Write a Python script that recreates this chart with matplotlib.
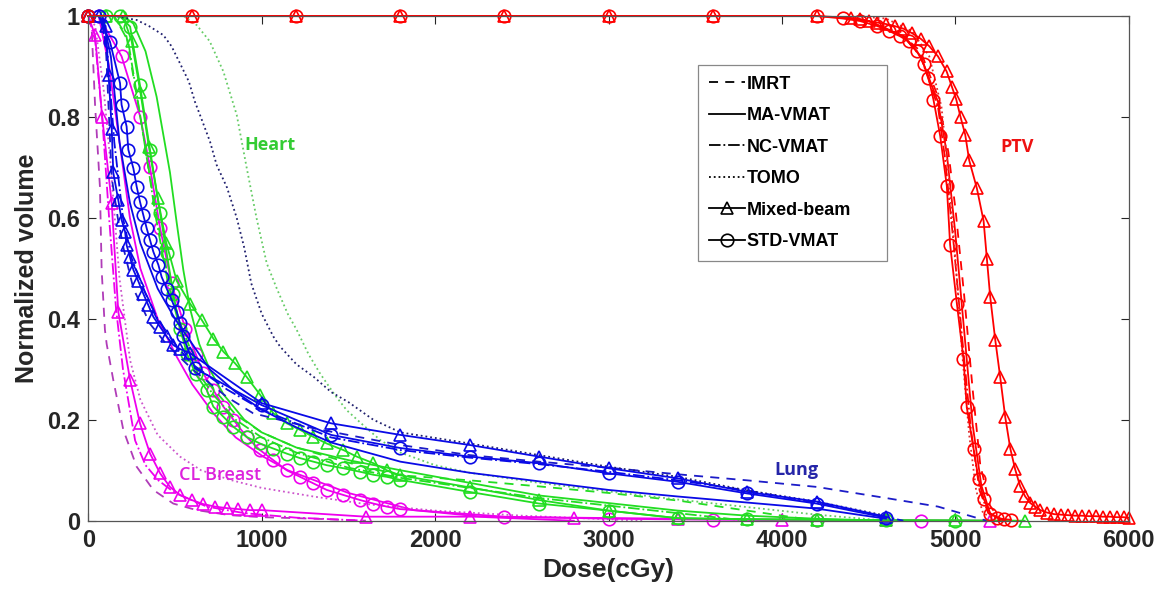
import matplotlib
matplotlib.use("Agg")
import matplotlib.pyplot as plt
from matplotlib.lines import Line2D

# ---- PTV (red) ----
ptv_imrt_dose = [0, 4300, 4500, 4700, 4800, 4900, 4960, 5000, 5050, 5100, 5144, 5200, 5260]
ptv_imrt_vol = [1, 1, 0.99, 0.96, 0.93, 0.84, 0.73, 0.62, 0.45, 0.26, 0.11, 0.03, 0]
ptv_ma_dose = [0, 4300, 4500, 4700, 4800, 4900, 4950, 5000, 5050, 5100, 5150, 5200, 5280]
ptv_ma_vol = [1, 1, 0.99, 0.96, 0.92, 0.83, 0.73, 0.57, 0.38, 0.19, 0.07, 0.015, 0]
ptv_nc_dose = [0, 4300, 4500, 4700, 4800, 4900, 4940, 4990, 5040, 5090, 5140, 5190, 5260]
ptv_nc_vol = [1, 1, 0.99, 0.96, 0.92, 0.82, 0.72, 0.55, 0.36, 0.18, 0.06, 0.015, 0]
ptv_tomo_dose = [0, 4400, 4600, 4750, 4850, 4920, 4960, 5000, 5040, 5080, 5120, 5160, 5250]
ptv_tomo_vol = [1, 1, 0.995, 0.97, 0.92, 0.82, 0.69, 0.52, 0.33, 0.17, 0.06, 0.015, 0]
ptv_mixed_dose = [0, 600, 1200, 1800, 2400, 3000, 3600, 4200, 4400, 4450, 4500, 4550, 4600,
                  4650, 4700, 4750, 4800, 4850, 4900, 4950, 4980, 5005, 5030, 5057, 5080,
                  5124, 5163, 5182, 5201, 5230, 5259, 5288, 5317, 5345, 5374, 5403, 5432,
                  5461, 5490, 5530, 5570, 5610, 5650, 5690, 5730, 5770, 5810, 5850, 5890,
                  5930, 5970, 6000]
ptv_mixed_vol = [1, 1, 1, 1, 1, 1, 1, 1, 0.996, 0.994, 0.99, 0.987, 0.984,
                 0.98, 0.975, 0.966, 0.955, 0.94, 0.92, 0.89, 0.86, 0.835, 0.80, 0.765, 0.714,
                 0.659, 0.594, 0.519, 0.444, 0.359, 0.284, 0.205, 0.143, 0.102, 0.068, 0.048, 0.035,
                 0.028, 0.021, 0.016, 0.013, 0.012, 0.011, 0.010, 0.010, 0.009, 0.009, 0.008, 0.008,
                 0.007, 0.007, 0.006]
ptv_std_dose = [0, 600, 1200, 1800, 2400, 3000, 3600, 4200, 4350, 4450, 4550, 4620, 4680,
                4730, 4780, 4817, 4845, 4874, 4913, 4951, 4970, 5009, 5047, 5066, 5105,
                5134, 5163, 5201, 5240, 5280, 5320]
ptv_std_vol = [1, 1, 1, 1, 1, 1, 1, 1, 0.995, 0.99, 0.98, 0.97, 0.96,
               0.95, 0.93, 0.905, 0.878, 0.834, 0.762, 0.663, 0.547, 0.43, 0.321, 0.225, 0.143,
               0.082, 0.044, 0.014, 0.006, 0.003, 0.002]

# ---- Heart (green) ----
heart_imrt_dose = [0, 150, 220, 300, 380, 450, 520, 600, 700, 850, 1000, 1200, 1500, 1800,
                   2200, 2600, 3000, 3400, 3800, 4200]
heart_imrt_vol = [1, 1, 0.96, 0.8, 0.63, 0.5, 0.4, 0.33, 0.27, 0.21, 0.175, 0.145, 0.115, 0.09,
                  0.08, 0.068, 0.055, 0.04, 0.02, 0]
heart_ma_dose = [0, 200, 260, 330, 394, 430, 471, 510, 548, 587, 640, 700, 780, 900, 1000,
                 1200, 1500, 1800, 2200, 2600, 3000, 3400, 3800, 4200, 4600]
heart_ma_vol = [1, 1, 0.985, 0.93, 0.84, 0.77, 0.69, 0.59, 0.497, 0.42, 0.35, 0.3, 0.25, 0.2, 0.175,
                0.145, 0.12, 0.1, 0.075, 0.05, 0.035, 0.02, 0.01, 0.004, 0]
heart_nc_dose = [0, 150, 230, 310, 390, 460, 530, 620, 720, 850, 1000, 1200, 1500, 1800, 2200,
                 2600, 3000, 3400, 3800]
heart_nc_vol = [1, 1, 0.95, 0.78, 0.6, 0.47, 0.38, 0.3, 0.25, 0.2, 0.165, 0.135, 0.105, 0.085, 0.065,
                0.045, 0.03, 0.015, 0]
heart_tomo_dose = [0, 550, 625, 700, 779, 856, 913, 970, 1029, 1087, 1150, 1202, 1270, 1336, 1420,
                   1490, 1583, 1683, 1800, 2000, 2200, 2600, 3000, 3400, 3800, 4200, 4600]
heart_tomo_vol = [1, 1, 0.982, 0.95, 0.89, 0.804, 0.7, 0.6, 0.51, 0.46, 0.41, 0.378, 0.33, 0.292, 0.25,
                  0.219, 0.19, 0.16, 0.135, 0.11, 0.095, 0.075, 0.058, 0.042, 0.027, 0.012, 0]
heart_mixed_dose = [0, 100, 200, 250, 300, 350, 400, 450, 510, 587, 654, 721, 779, 846, 913, 990,
                    1067, 1144, 1221, 1298, 1375, 1471, 1548, 1644, 1721, 1798, 2200, 2600, 3000,
                    3400, 3800, 4200, 4600, 5000, 5400]
heart_mixed_vol = [1, 1, 1, 0.95, 0.85, 0.74, 0.64, 0.55, 0.475, 0.43, 0.398, 0.361, 0.335, 0.312, 0.285,
                   0.25, 0.213, 0.193, 0.18, 0.166, 0.153, 0.14, 0.127, 0.114, 0.10, 0.09, 0.066,
                   0.041, 0.02, 0.005, 0.003, 0.002, 0.001, 0.001, 0]
heart_std_dose = [0, 100, 180, 241, 298, 356, 414, 452, 490, 529, 570, 620, 683, 721, 779, 837,
                  913, 990, 1067, 1144, 1221, 1298, 1375, 1471, 1567, 1644, 1721, 1798, 2200,
                  2600, 3000, 3400, 3800, 4200, 4600, 5000]
heart_std_vol = [1, 1, 1, 0.979, 0.863, 0.735, 0.61, 0.53, 0.45, 0.38, 0.33, 0.29, 0.259, 0.226,
                 0.206, 0.186, 0.166, 0.153, 0.143, 0.133, 0.124, 0.117, 0.11, 0.104, 0.097, 0.091,
                 0.087, 0.081, 0.057, 0.034, 0.02, 0.005, 0.003, 0.002, 0.001, 0]

# ---- Lung (blue) ----
lung_imrt_dose = [0, 70, 100, 135, 170, 203, 260, 356, 450, 600, 800, 950, 1300, 1800, 2200,
                  2600, 3000, 3400, 3800, 4200, 4600, 4900, 5180]
lung_imrt_vol = [1, 1, 0.95, 0.68, 0.6, 0.54, 0.46, 0.39, 0.35, 0.3, 0.245, 0.213, 0.183, 0.15, 0.13,
                 0.117, 0.105, 0.092, 0.08, 0.067, 0.045, 0.028, 0]
lung_ma_dose = [0, 80, 130, 180, 240, 300, 400, 500, 600, 700, 850, 1000, 1200, 1400, 1800,
                2200, 2600, 3000, 3400, 3800, 4200, 4600]
lung_ma_vol = [1, 1, 0.92, 0.75, 0.63, 0.55, 0.46, 0.4, 0.35, 0.3, 0.255, 0.22, 0.185, 0.155, 0.117,
               0.095, 0.078, 0.061, 0.048, 0.036, 0.024, 0.004]
lung_nc_dose = [0, 70, 110, 150, 200, 250, 330, 400, 500, 600, 800, 1000, 1400, 1800, 2200, 2600,
                3000, 3400, 3800, 4200, 4500, 4700]
lung_nc_vol = [1, 1, 0.93, 0.75, 0.6, 0.52, 0.45, 0.4, 0.35, 0.31, 0.26, 0.22, 0.165, 0.14, 0.125,
               0.112, 0.097, 0.08, 0.06, 0.035, 0.015, 0]
lung_tomo_dose = [0, 150, 279, 350, 433, 480, 529, 580, 615, 644, 702, 740, 800, 856, 900, 940,
                  1000, 1067, 1106, 1200, 1300, 1400, 1500, 1644, 1800, 2200, 2600, 3000, 3400,
                  3800, 4200, 4600]
lung_tomo_vol = [1, 1, 0.992, 0.98, 0.962, 0.94, 0.906, 0.87, 0.83, 0.804, 0.751, 0.705, 0.66, 0.6,
                 0.54, 0.47, 0.41, 0.365, 0.345, 0.31, 0.285, 0.255, 0.235, 0.2, 0.175, 0.153, 0.13,
                 0.107, 0.087, 0.06, 0.038, 0.01]
lung_mixed_dose = [0, 60, 100, 117, 135, 144, 173, 192, 212, 221, 240, 260, 289, 317, 346, 375,
                   414, 452, 490, 530, 587, 1000, 1400, 1800, 2200, 2600, 3000, 3400, 3800, 4200,
                   4600]
lung_mixed_vol = [1, 1, 0.98, 0.883, 0.777, 0.69, 0.635, 0.596, 0.573, 0.546, 0.523, 0.497, 0.474,
                  0.45, 0.427, 0.404, 0.384, 0.365, 0.348, 0.34, 0.332, 0.233, 0.193, 0.17, 0.15,
                  0.127, 0.104, 0.084, 0.057, 0.038, 0.008]
lung_std_dose = [0, 60, 125, 183, 192, 221, 231, 260, 279, 298, 317, 337, 356, 375, 404, 423, 452,
                 481, 510, 529, 548, 615, 1000, 1400, 1800, 2200, 2600, 3000, 3400, 3800, 4200,
                 4600]
lung_std_vol = [1, 1, 0.949, 0.867, 0.824, 0.781, 0.735, 0.698, 0.662, 0.632, 0.606, 0.579, 0.556,
                0.533, 0.507, 0.483, 0.46, 0.437, 0.414, 0.391, 0.365, 0.302, 0.229, 0.17, 0.144,
                0.127, 0.114, 0.094, 0.077, 0.054, 0.034, 0.006]

# ---- CL Breast (magenta) ----
cl_imrt_dose = [0, 20, 39, 67, 77, 96, 106, 144, 202, 279, 375, 490, 625, 817, 1000, 1300, 1600]
cl_imrt_vol = [1, 0.97, 0.824, 0.662, 0.497, 0.378, 0.35, 0.279, 0.18, 0.107, 0.061, 0.034, 0.021,
               0.011, 0.007, 0.004, 0]
cl_ma_dose = [0, 60, 120, 180, 240, 300, 400, 510, 600, 721, 850, 1009, 1150, 1298, 1500, 1875,
              2300, 2800]
cl_ma_vol = [1, 1, 0.9, 0.75, 0.6, 0.5, 0.4, 0.325, 0.27, 0.213, 0.165, 0.127, 0.1, 0.081, 0.055,
             0.021, 0.007, 0]
cl_nc_dose = [0, 40, 80, 120, 160, 200, 270, 330, 404, 500, 683, 900, 1200, 1600]
cl_nc_vol = [1, 0.95, 0.8, 0.6, 0.42, 0.3, 0.159, 0.11, 0.08, 0.055, 0.028, 0.015, 0.006, 0]
cl_tomo_dose = [0, 40, 90, 130, 180, 241, 300, 400, 529, 650, 817, 1000, 1298, 1600, 2000, 2500,
                3200]
cl_tomo_vol = [1, 0.98, 0.85, 0.7, 0.48, 0.318, 0.24, 0.17, 0.127, 0.1, 0.081, 0.065, 0.048, 0.033,
               0.02, 0.01, 0]
cl_mixed_dose = [0, 39, 80, 135, 173, 241, 298, 356, 414, 471, 529, 596, 663, 731, 798, 865, 933,
                 1000, 1600, 2200, 2800, 3400, 4000, 4600, 5200]
cl_mixed_vol = [1, 0.962, 0.8, 0.629, 0.414, 0.279, 0.193, 0.133, 0.094, 0.067, 0.051, 0.041, 0.033,
                0.028, 0.025, 0.023, 0.021, 0.021, 0.008, 0.008, 0.006, 0.004, 0.002, 0.001, 0]
cl_std_dose = [0, 60, 192, 300, 356, 414, 480, 560, 620, 663, 721, 779, 837, 913, 990, 1067, 1144,
               1221, 1298, 1375, 1471, 1567, 1644, 1721, 1798, 2400, 3000, 3600, 4200, 4800]
cl_std_vol = [1, 1, 0.92, 0.8, 0.7, 0.58, 0.47, 0.38, 0.33, 0.292, 0.259, 0.226, 0.2, 0.166, 0.14,
              0.12, 0.10, 0.087, 0.074, 0.061, 0.051, 0.041, 0.034, 0.028, 0.023, 0.008, 0.004,
              0.002, 0.001, 0]

techniques = ["IMRT", "MA-VMAT", "NC-VMAT", "TOMO", "Mixed-beam", "STD-VMAT"]
x_ticks = [0, 1000, 2000, 3000, 4000, 5000, 6000]
y_ticks = [0, 0.2, 0.4, 0.6, 0.8, 1.0]
y_tick_labels = ["0", "0.2", "0.4", "0.6", "0.8", "1"]

RED, GREEN, BLUE, MAG = "#ff0000", "#22dd22", "#0a0ae6", "#ee00ee"

style = {
    "IMRT": dict(ls="--", dashes=(5, 4)),
    "MA-VMAT": dict(ls="-"),
    "NC-VMAT": dict(ls="-."),
    "TOMO": dict(ls=":"),
    "Mixed-beam": dict(ls="-", marker="^"),
    "STD-VMAT": dict(ls="-", marker="o"),
}

curves = [
    (cl_imrt_dose, cl_imrt_vol, "IMRT", "#b03cb8"),
    (cl_ma_dose, cl_ma_vol, "MA-VMAT", MAG),
    (cl_nc_dose, cl_nc_vol, "NC-VMAT", MAG),
    (cl_tomo_dose, cl_tomo_vol, "TOMO", "#cc55cc"),
    (cl_mixed_dose, cl_mixed_vol, "Mixed-beam", MAG),
    (cl_std_dose, cl_std_vol, "STD-VMAT", MAG),
    (heart_imrt_dose, heart_imrt_vol, "IMRT", GREEN),
    (heart_ma_dose, heart_ma_vol, "MA-VMAT", GREEN),
    (heart_nc_dose, heart_nc_vol, "NC-VMAT", GREEN),
    (heart_tomo_dose, heart_tomo_vol, "TOMO", "#66cc66"),
    (heart_mixed_dose, heart_mixed_vol, "Mixed-beam", GREEN),
    (heart_std_dose, heart_std_vol, "STD-VMAT", GREEN),
    (lung_imrt_dose, lung_imrt_vol, "IMRT", "#1c1cc8"),
    (lung_ma_dose, lung_ma_vol, "MA-VMAT", BLUE),
    (lung_nc_dose, lung_nc_vol, "NC-VMAT", BLUE),
    (lung_tomo_dose, lung_tomo_vol, "TOMO", "#20206e"),
    (lung_mixed_dose, lung_mixed_vol, "Mixed-beam", BLUE),
    (lung_std_dose, lung_std_vol, "STD-VMAT", BLUE),
    (ptv_imrt_dose, ptv_imrt_vol, "IMRT", RED),
    (ptv_ma_dose, ptv_ma_vol, "MA-VMAT", RED),
    (ptv_nc_dose, ptv_nc_vol, "NC-VMAT", RED),
    (ptv_tomo_dose, ptv_tomo_vol, "TOMO", "#e03030"),
    (ptv_mixed_dose, ptv_mixed_vol, "Mixed-beam", RED),
    (ptv_std_dose, ptv_std_vol, "STD-VMAT", RED),
]

plt.rcParams["font.family"] = ["Liberation Sans", "DejaVu Sans"]

fig = plt.figure(figsize=(11.71, 6.05), dpi=100)
ax = fig.add_axes([0.0754, 0.1393, 0.8885, 0.8343])

for dose, vol, tech, col in curves:
    st = style[tech]
    kw = dict(color=col, lw=1.3)
    if "dashes" in st:
        kw["dashes"] = st["dashes"]
    else:
        kw["ls"] = st["ls"]
    if "marker" in st:
        kw.update(marker=st["marker"], ms=9, mfc="none", mec=col, mew=1.2, clip_on=False)
    ax.plot(dose, vol, **kw)

# structure labels
ax.text(1049, 0.744, "Heart", color="#33cc33", fontsize=13, fontweight="bold",
        family="Open Sans", ha="center", va="center")
ax.text(5354, 0.741, "PTV", color="#ee1111", fontsize=13, fontweight="bold",
        family="Open Sans", ha="center", va="center")
ax.text(4081, 0.10, "Lung", color="#2525a8", fontsize=13, fontweight="bold",
        family="Open Sans", ha="center", va="center")
ax.text(760, 0.09, "CL Breast", color="#dd22dd", fontsize=13, fontweight="semibold",
        family="Open Sans", ha="center", va="center")

ax.set_xlim(0, 6000)
ax.set_ylim(0, 1)
ax.set_xticks(x_ticks)
ax.set_yticks(y_ticks)
ax.set_yticklabels(y_tick_labels)
ax.tick_params(direction="in", length=6, width=0.8, top=True, right=True,
               labelsize=17, colors="#262626", pad=6)
for lab in ax.get_xticklabels() + ax.get_yticklabels():
    lab.set_fontweight("bold")
for s in ax.spines.values():
    s.set_color("#555555")
    s.set_linewidth(0.9)

ax.set_xlabel("Dose(cGy)", fontsize=19, fontweight="bold", color="#262626", labelpad=4)
ax.set_ylabel("Normalized volume", fontsize=18, fontweight="bold", color="#262626", labelpad=6)

# legend (black handles)
handles = []
for tech in techniques:
    st = style[tech]
    kw = dict(color="black", lw=1.3)
    if "dashes" in st:
        kw["dashes"] = st["dashes"]
    else:
        kw["ls"] = st["ls"]
    if "marker" in st:
        kw.update(marker=st["marker"], ms=9, mfc="none", mec="black", mew=1.2)
    handles.append(Line2D([], [], **kw))
leg = ax.legend(handles, techniques, loc="upper left", mode="expand",
                bbox_to_anchor=(0.586, 0.491, 0.182, 0.412), borderaxespad=0,
                fancybox=False, edgecolor="#888888", framealpha=1,
                prop=dict(family="Liberation Sans", weight="bold", size=13),
                handlelength=2.0, handletextpad=0.1, labelspacing=0.8, borderpad=0.6)
leg.get_frame().set_linewidth(0.9)

fig.savefig("out.png", dpi=100)
